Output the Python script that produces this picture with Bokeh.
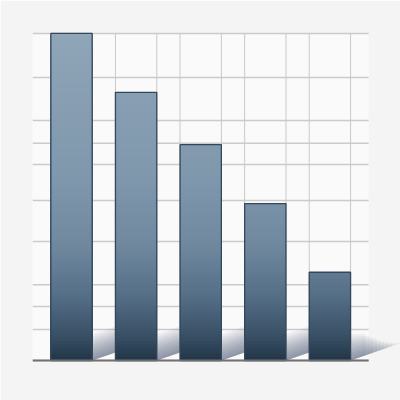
from bokeh.plotting import figure
from bokeh.models import Range1d, BoxAnnotation
from bokeh.embed import file_html
from bokeh.resources import INLINE

# ---- data ----
categories = ["A", "B", "C", "D", "E"]
values = [100, 82, 66, 48, 27]
grid_values = [0, 9.5, 16.5, 23.2, 36.4, 48.9, 59.9, 66.4, 73.4, 86.5, 100]

# ---- style ----
BAR_W = 0.64
X0, X1 = 0.396, 6.093
GRID_END = 5.6
color_stops = [(0, (0x22, 0x35, 0x48)), (8, (0x3a, 0x51, 0x66)), (20, (0x55, 0x6f, 0x87)),
               (35, (0x6f, 0x88, 0x9e)), (55, (0x7f, 0x97, 0xac)), (100, (0x8f, 0xa5, 0xb8))]


def grad_color(v):
    for (a, ca), (b, cb) in zip(color_stops[:-1], color_stops[1:]):
        if v <= b:
            t = (v - a) / (b - a)
            c = [int(round(ca[i] + (cb[i] - ca[i]) * t)) for i in range(3)]
            return "#%02x%02x%02x" % tuple(c)
    return "#%02x%02x%02x" % color_stops[-1][1]


xs = list(range(1, len(categories) + 1))

p = figure(width=400, height=400, output_backend="svg", toolbar_location=None,
           x_range=Range1d(X0, X1), y_range=Range1d(-0.6, 100.6),
           x_axis_location=None, y_axis_location=None,
           min_border_left=32, min_border_right=0, min_border_top=31, min_border_bottom=38)
p.grid.visible = False
p.outline_line_color = None
p.background_fill_color = "#f4f4f4"
p.border_fill_color = "#f4f4f4"

p.add_layout(BoxAnnotation(left=X0, right=GRID_END, bottom=0, top=100,
                           fill_color="#fafafa", fill_alpha=1, line_color=None, level="image"))

# horizontal grid lines
p.segment(x0=[X0] * len(grid_values), x1=[GRID_END] * len(grid_values),
          y0=grid_values, y1=grid_values, line_color="#cbcbcb", line_width=1.5)
# vertical grid lines at bar edges
edges = [x + s * BAR_W / 2 for x in xs for s in (-1, 1)]
p.segment(x0=edges, x1=edges, y0=[0] * len(edges), y1=[100] * len(edges),
          line_color="#c9c9c9", line_width=1)

# shadows
slope = 6.9   # y units per x unit
H = 8.0
N = 10
for i, x in enumerate(xs):
    r = x + BAR_W / 2
    last = i + 1 >= len(xs)
    w = (xs[i + 1] - BAR_W / 2 - r) if not last else (X1 - r)
    pxs, pys = [], []
    for k in range(1, N + 1):
        h = H * k / N
        ww = w * (1.05 - 0.75 * k / N) if last else w
        pxs.append([r, r + ww, r + ww, r])
        pys.append([0, ww * slope, ww * slope + h * (1 - 0.6 * ww / w if last else 1), h])
    p.patches(pxs, pys, fill_color="#2f4357", fill_alpha=0.065, line_color=None)

# gradient bars: overlapping slices from the base up to each level, tallest first
L, R, B, T, C = [], [], [], [], []
step = 1.0
for x, v in zip(xs, values):
    levels = []
    y = v
    while y > 0:
        levels.append(y)
        y -= step
    for lv in levels:
        L.append(x - BAR_W / 2)
        R.append(x + BAR_W / 2)
        B.append(0)
        T.append(lv)
        C.append(grad_color(max(lv - step / 2, 0)))
p.quad(left=L, right=R, bottom=B, top=T, fill_color=C, line_color=None)

# bar outlines
p.vbar(x=xs, top=values, width=BAR_W, fill_alpha=0, line_color="#33465a", line_width=1.3)

# baseline
p.segment(x0=[X0], x1=[GRID_END], y0=[0], y1=[0], line_color="#707070", line_width=2)

open("out.html", "w").write(file_html(p, INLINE))
